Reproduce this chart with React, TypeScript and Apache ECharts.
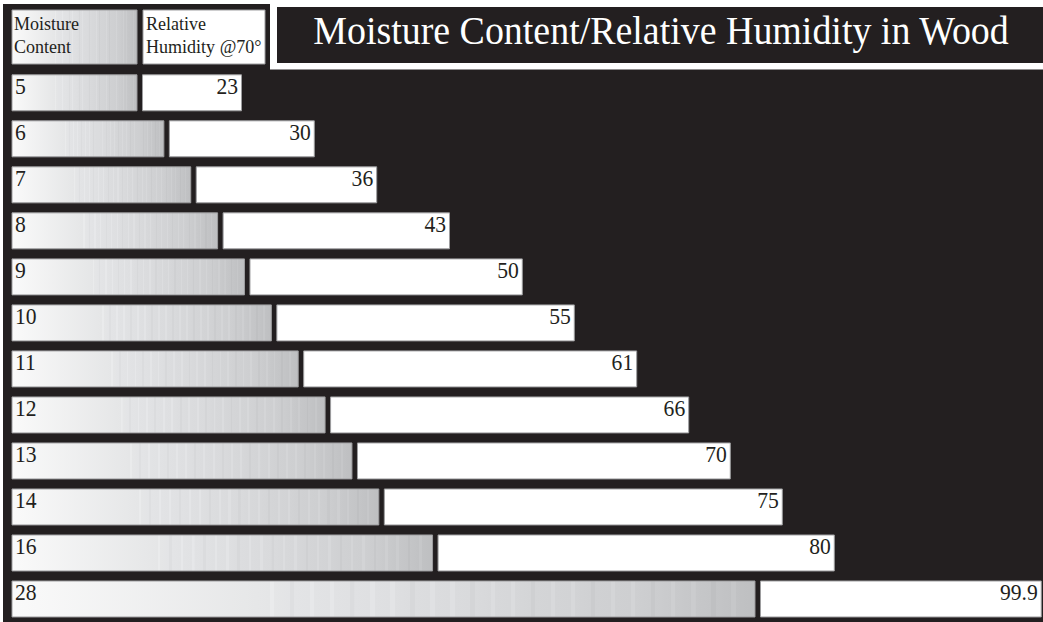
import React, { useEffect, useRef } from "react";
import * as echarts from "echarts";

// ---- data ----
const MOISTURE: number[] = [5, 6, 7, 8, 9, 10, 11, 12, 13, 14, 16, 28];
const MOISTURE_LABELS: string[] = ["5", "6", "7", "8", "9", "10", "11", "12", "13", "14", "16", "28"];
const HUMIDITY: number[] = [23, 30, 36, 43, 50, 55, 61, 66, 70, 75, 80, 99.9];
const HUMIDITY_LABELS: string[] = ["23", "30", "36", "43", "50", "55", "61", "66", "70", "75", "80", "99.9"];
const TITLE = "Moisture Content/Relative Humidity in Wood";
const HEADER_MC: string[] = ["Moisture", "Content"];
const HEADER_RH: string[] = ["Relative", "Humidity @70°"];

// ---- style ----
const DARK = "#231f20";
const SERIF = "'Liberation Serif', 'Times New Roman', serif";
const BAR_H = 36;
const GAP = 5.5;

function hex(c: string): number[] {
  return [1, 3, 5].map((k) => parseInt(c.slice(k, k + 2), 16));
}
function toHex(v: number[]): string {
  return "#" + v.map((x) => Math.max(0, Math.min(255, Math.round(x))).toString(16).padStart(2, "0")).join("");
}
const BASE_STOPS: [number, string][] = [
  [0, "#fafafa"],
  [0.25, "#e9eaeb"],
  [0.55, "#dcdddf"],
  [0.85, "#cdced0"],
  [1, "#bebfc1"],
];
function baseColor(p: number): number[] {
  for (let i = 1; i < BASE_STOPS.length; i++) {
    const [p1, c1] = BASE_STOPS[i];
    const [p0, c0] = BASE_STOPS[i - 1];
    if (p <= p1) {
      const t = (p - p0) / (p1 - p0);
      const a = hex(c0), b = hex(c1);
      return a.map((v, k) => v + (b[k] - v) * t);
    }
  }
  return hex(BASE_STOPS[BASE_STOPS.length - 1][1]);
}
function barGradient() {
  const stops: { offset: number; color: string }[] = [];
  stops.push({ offset: 0, color: toHex(baseColor(0)) });
  let k = 0;
  for (let p = 0.35; p < 0.985; p += 0.027) {
    const c = baseColor(p);
    const d = k % 3 === 1 ? -5 : 5;
    const s = c.map((v) => v + d);
    stops.push({ offset: p - 0.003, color: toHex(c) });
    stops.push({ offset: p - 0.0029, color: toHex(s) });
    stops.push({ offset: p + 0.0029, color: toHex(s) });
    stops.push({ offset: p + 0.003, color: toHex(c) });
    k++;
  }
  stops.push({ offset: 1, color: toHex(baseColor(1)) });
  return { type: "linear", x: 0, y: 0, x2: 1, y2: 0, colorStops: stops };
}

export default function App() {
  const ref = useRef<HTMLDivElement>(null);

  useEffect(() => {
    if (!ref.current) return;
    const chart = echarts.init(ref.current, null, { renderer: "svg" });

    const headerText = (t: string, x: number, y: number) => ({
      type: "text",
      x,
      y,
      scaleX: 0.95,
      z: 20,
      style: { text: t, fill: DARK, fontSize: 19, fontFamily: SERIF, align: "left", verticalAlign: "middle" },
    });

    const graySeries = {
      type: "custom",
      xAxisIndex: 0,
      yAxisIndex: 0,
      data: MOISTURE.map((m, i) => [m, i]),
      encode: { x: 0, y: 1 },
      renderItem: (params: any, api: any) => {
        const end = api.coord([api.value(0), api.value(1)]);
        const x0 = params.coordSys.x;
        const top = end[1] - BAR_H / 2;
        return {
          type: "group",
          children: [
            {
              type: "rect",
              shape: { x: x0, y: top, width: end[0] - x0, height: BAR_H },
              style: { fill: barGradient(), stroke: "#9d9d9f", lineWidth: 1 },
            },
            {
              type: "text",
              x: x0 + 3,
              y: top + 11.5,
              scaleX: 0.9,
              style: {
                text: MOISTURE_LABELS[params.dataIndex],
                fill: DARK,
                fontSize: 24,
                fontFamily: SERIF,
                align: "left",
                verticalAlign: "middle",
              },
            },
          ],
        };
      },
    };

    const option: any = {
      animation: false,
      backgroundColor: "#ffffff",
      grid: { left: 12, top: 69.8, width: 1030.5, height: 556.4 },
      xAxis: [
        { type: "value", min: 0.348, max: 38.7, show: false },
        { type: "value", min: 0.933, max: 100.02, show: false },
      ],
      yAxis: { type: "category", data: MOISTURE_LABELS, inverse: true, show: false },
      graphic: {
        elements: [
          { type: "rect", z: 0, shape: { x: 3, y: 4, width: 1040, height: 618 }, style: { fill: DARK } },
          {
            type: "rect",
            z: 10,
            shape: { x: 12, y: 10, width: 125, height: 54 },
            style: { fill: barGradient(), stroke: "#9d9d9f", lineWidth: 1 },
          },
          {
            type: "rect",
            z: 10,
            shape: { x: 143, y: 10, width: 122, height: 54 },
            style: { fill: "#ffffff", stroke: "#9d9d9f", lineWidth: 1 },
          },
          headerText(HEADER_MC[0], 14, 23),
          headerText(HEADER_MC[1], 14, 46),
          headerText(HEADER_RH[0], 146, 23),
          headerText(HEADER_RH[1], 146, 46),
          { type: "rect", z: 10, shape: { x: 270, y: 0, width: 773, height: 69.5 }, style: { fill: "#ffffff" } },
          { type: "rect", z: 11, shape: { x: 277, y: 7, width: 766, height: 56 }, style: { fill: DARK } },
          {
            type: "text",
            z: 12,
            x: 661,
            y: 31,
            scaleX: 0.925,
            style: {
              text: TITLE,
              fill: "#ffffff",
              fontSize: 41,
              fontFamily: SERIF,
              align: "center",
              verticalAlign: "middle",
            },
          },
        ],
      },
      series: [graySeries],
    };

    chart.setOption(option);

    const grayEnd = MOISTURE.map((m) => chart.convertToPixel({ xAxisIndex: 0 }, m) as unknown as number);

    const whiteSeries = {
      type: "custom",
      xAxisIndex: 1,
      yAxisIndex: 0,
      data: HUMIDITY.map((h, i) => [h, i]),
      encode: { x: 0, y: 1 },
      renderItem: (params: any, api: any) => {
        const end = api.coord([api.value(0), api.value(1)]);
        const top = end[1] - BAR_H / 2;
        const start = grayEnd[params.dataIndex] + GAP;
        return {
          type: "group",
          children: [
            {
              type: "rect",
              shape: { x: start, y: top, width: end[0] - start, height: BAR_H },
              style: { fill: "#ffffff", stroke: "#9d9d9f", lineWidth: 1 },
            },
            {
              type: "text",
              x: end[0] - 3.5,
              y: top + 11.5,
              scaleX: 0.9,
              style: {
                text: HUMIDITY_LABELS[params.dataIndex],
                fill: DARK,
                fontSize: 24,
                fontFamily: SERIF,
                align: "right",
                verticalAlign: "middle",
              },
            },
          ],
        };
      },
    };

    chart.setOption({ series: [graySeries, whiteSeries] });

    return () => chart.dispose();
  }, []);

  return (
    <div
      ref={ref}
      style={{ position: "fixed", left: 0, top: 0, width: 1043, height: 622 }}
    />
  );
}
